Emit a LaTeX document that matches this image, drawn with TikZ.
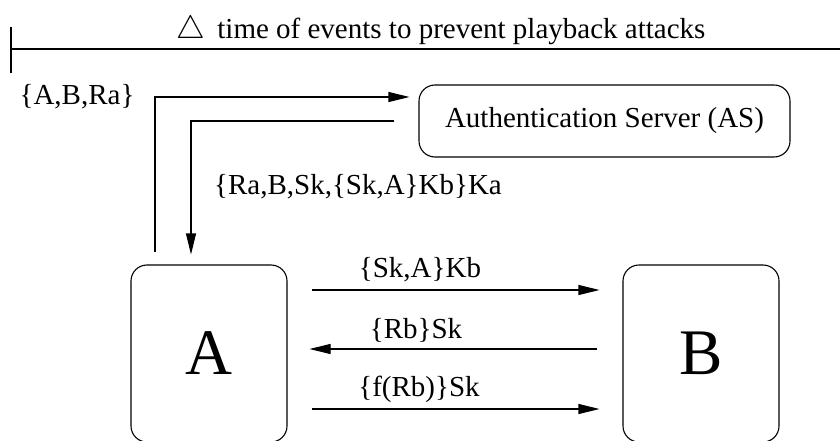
\documentclass[tikz,border=0pt]{standalone}
\usepackage{fontspec}
\setmainfont{Liberation Serif}
\usetikzlibrary{arrows.meta,positioning}

\tikzset{
  party/.style={rectangle,
      draw,
      rounded corners = 16pt,
      line width = 1.1pt,
      minimum width = 156pt,
      minimum height = 177pt,
      font = \fontsize{65}{70}\selectfont},
  msg/.style={font = \fontsize{29}{34}\selectfont, inner sep = 0pt}
}

\begin{document}
\begin{tikzpicture}[x=1pt,y=-1pt,line width=1.1pt,
    >={Triangle[length=21pt,width=10pt]}]
  \useasboundingbox (0,0) rectangle (840,441);

  % time line on top
  \node[msg] (time) at (441,30) {\scalebox{1.3}{$\triangle$}\hspace{12pt}time of events to prevent playback attacks};
  \coordinate (t0) at (11,49);
  \coordinate (t1) at (840,49);
  \draw (t0) -- (t1);
  \draw ([yshift=22pt]t0) -- ([yshift=-24pt]t0);

  \node[rectangle,
        draw,
        rounded corners = 16pt,
        minimum width = 371pt,
        minimum height = 72pt,
        font = \fontsize{29}{34}\selectfont
        ] (as) at (604.5,121) {Authentication Server (AS)};

  \node[party] (a) at (209,353.5) {A};
  \node[party] (b) at (701,353.5) {B};

  % request A -> AS
  \coordinate (req) at (155,252);
  \node[msg] (reqlab) at (77,97) {\{A,B,Ra\}};
  \draw[->] (req) |- ([xshift=-9pt,yshift=24pt]as.west);

  % reply AS -> A
  \coordinate (rep) at ([xshift=-24pt]as.west);
  \node[msg] (replab) at (358,187) {\{Ra,B,Sk,\{Sk,A\}Kb\}Ka};
  \draw[->] (rep) -| ([xshift=-18pt,yshift=10pt]a.north);

  % A <-> B
  \node[msg] (m1) at (420,270) {\{Sk,A\}Kb};
  \node[msg] (m2) at (416,330) {\{Rb\}Sk};
  \node[msg] (m3) at (419,389) {\{f(Rb)\}Sk};
  \draw[->] ([xshift=24pt,yshift=63.5pt]a.east) -- ([xshift=-23pt,yshift=63.5pt]b.west);
  \draw[->] ([xshift=-25pt,yshift=4.5pt]b.west) -- ([xshift=22pt,yshift=4.5pt]a.east);
  \draw[->] ([xshift=24pt,yshift=-55.5pt]a.east) -- ([xshift=-23pt,yshift=-55.5pt]b.west);

\end{tikzpicture}
\end{document}
